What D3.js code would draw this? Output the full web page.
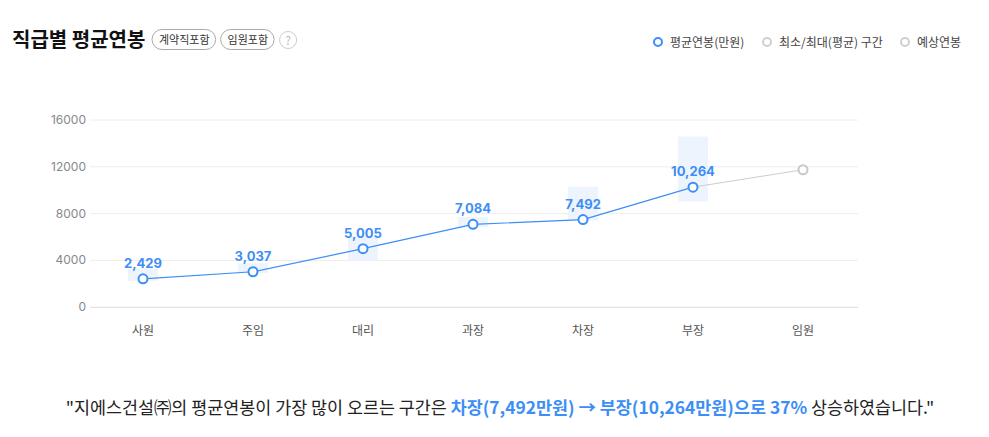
<!DOCTYPE html>
<html>
<head>
<meta charset="utf-8">
<script src="https://cdn.jsdelivr.net/npm/d3@7"></script>
<style>
  body { margin: 0; background: #fff; font-family: "Noto Sans CJK KR", "Noto Sans", sans-serif; }
</style>
</head>
<body>
<svg id="chart" width="989" height="437"></svg>
<script>
// ranks, average salary (만원), min/max band and estimated executive salary
var ranks = ['사원', '주임', '대리', '과장', '차장', '부장', '임원'];
var avgSalary = [2429, 3037, 5005, 7084, 7492, 10264];
var rangeMin = [2270, 2910, 3990, 6850, 7410, 9030];
var rangeMax = [3300, 3760, 6100, 7700, 10300, 14590];
var expected = 11750;
var yTicks = [0, 4000, 8000, 12000, 16000];
var badges = ['계약직포함', '임원포함'];
var legendItems = [
  { label: '평균연봉(만원)', color: '#3d8ef5' },
  { label: '최소/최대(평균) 구간', color: '#cfcfcf' },
  { label: '예상연봉', color: '#cfcfcf' }
];

var blue = '#3d8ef5',
    svg = d3.select('#chart');

// Title and badges
svg.append('text')
  .attr('x', 12).attr('y', 47)
  .attr('font-size', 20).attr('font-weight', 700)
  .attr('fill', '#111')
  .text('직급별 평균연봉');

var bx = 152;
badges.forEach(function(b) {
  var g = svg.append('g');
  var t = g.append('text')
    .attr('x', bx + 7).attr('y', 44)
    .attr('font-size', 11).attr('fill', '#333')
    .text(b);
  var w = t.node().getComputedTextLength() + 13;
  g.insert('rect', 'text')
    .attr('x', bx).attr('y', 29.5)
    .attr('width', w).attr('height', 20).attr('rx', 10)
    .attr('fill', '#fff').attr('stroke', '#aaa');
  bx += w + 5;
});
svg.append('circle').attr('cx', bx + 9).attr('cy', 40).attr('r', 8.5)
  .attr('fill', '#fff').attr('stroke', '#ccc');
svg.append('text').attr('x', bx + 9).attr('y', 44.5)
  .attr('text-anchor', 'middle').attr('font-size', 12).attr('fill', '#bbb').text('?');

// Legend
var lx = [658, 767, 905];
legendItems.forEach(function(d, i) {
  svg.append('circle').attr('cx', lx[i]).attr('cy', 42).attr('r', 4)
    .attr('fill', '#fff').attr('stroke', d.color).attr('stroke-width', 2);
  svg.append('text').attr('x', lx[i] + 12).attr('y', 46.5)
    .attr('font-size', 12).attr('fill', '#444').text(d.label);
});

// Scales
var x = d3.scaleBand().domain(ranks).range([88, 858]);
var y = d3.scaleLinear().domain([0, 16000]).range([307.3, 120]);
var cx = function(r) { return x(r) + x.bandwidth() / 2; };

// Grid
svg.append('g').selectAll('line')
  .data(yTicks)
  .enter().append('line')
  .attr('x1', 90).attr('x2', 858)
  .attr('y1', function(d) { return y(d); })
  .attr('y2', function(d) { return y(d); })
  .attr('stroke', function(d) { return d === 0 ? '#dcdcdc' : '#eeeeee'; });

// Y axis labels
svg.append('g').selectAll('text')
  .data(yTicks)
  .enter().append('text')
  .attr('x', 86).attr('y', function(d) { return y(d) + 4; })
  .attr('text-anchor', 'end')
  .attr('font-size', 12).attr('fill', '#888')
  .attr('font-family', 'Inter, "Noto Sans", sans-serif')
  .text(function(d) { return d; });

// X axis labels
svg.append('g').selectAll('text')
  .data(ranks)
  .enter().append('text')
  .attr('x', function(d) { return cx(d); }).attr('y', 335)
  .attr('text-anchor', 'middle')
  .attr('font-size', 12).attr('fill', '#555')
  .text(function(d) { return d; });

// Min/max bands
var known = ranks.slice(0, avgSalary.length);
svg.append('g').selectAll('rect')
  .data(known)
  .enter().append('rect')
  .attr('x', function(d) { return cx(d) - 15; })
  .attr('width', 30)
  .attr('y', function(d, i) { return y(rangeMax[i]); })
  .attr('height', function(d, i) { return y(rangeMin[i]) - y(rangeMax[i]); })
  .attr('fill', '#eef4fd');

// Expected line (gray)
var last = known.length - 1;
svg.append('line')
  .attr('x1', cx(known[last])).attr('y1', y(avgSalary[last]))
  .attr('x2', cx(ranks[ranks.length - 1])).attr('y2', y(expected))
  .attr('stroke', '#cccccc').attr('stroke-width', 1);

// Average line
var line = d3.line()
  .x(function(d, i) { return cx(known[i]); })
  .y(function(d) { return y(d); });
svg.append('path')
  .datum(avgSalary)
  .attr('d', line)
  .attr('fill', 'none').attr('stroke', blue).attr('stroke-width', 1.2);

// Points
svg.append('circle')
  .attr('cx', cx(ranks[ranks.length - 1])).attr('cy', y(expected)).attr('r', 4.5)
  .attr('fill', '#fff').attr('stroke', '#c8c8c8').attr('stroke-width', 2);

svg.append('g').selectAll('circle')
  .data(avgSalary)
  .enter().append('circle')
  .attr('cx', function(d, i) { return cx(known[i]); })
  .attr('cy', function(d) { return y(d); })
  .attr('r', 4.5)
  .attr('fill', '#fff').attr('stroke', blue).attr('stroke-width', 2);

// Value labels
svg.append('g').selectAll('text')
  .data(avgSalary)
  .enter().append('text')
  .attr('x', function(d, i) { return cx(known[i]); })
  .attr('y', function(d) { return y(d) - 11; })
  .attr('text-anchor', 'middle')
  .attr('font-size', 13).attr('font-weight', 700).attr('fill', blue)
  .attr('font-family', 'Inter, "Noto Sans", sans-serif')
  .text(function(d) { return d3.format(',')(d); });

// Summary sentence
var growth = Math.round((avgSalary[5] / avgSalary[4] - 1) * 100);
var summary = svg.append('text')
  .attr('x', 500).attr('y', 414)
  .attr('text-anchor', 'middle')
  .attr('font-size', 17.4).attr('fill', '#222');
summary.append('tspan').text('"지에스건설㈜의 평균연봉이 가장 많이 오르는 구간은 ');
summary.append('tspan').attr('fill', blue).attr('font-weight', 700)
  .text(ranks[4] + '(' + d3.format(',')(avgSalary[4]) + '만원) → ' +
        ranks[5] + '(' + d3.format(',')(avgSalary[5]) + '만원)으로 ' + growth + '%');
summary.append('tspan').text(' 상승하였습니다."');
</script>
</body>
</html>
